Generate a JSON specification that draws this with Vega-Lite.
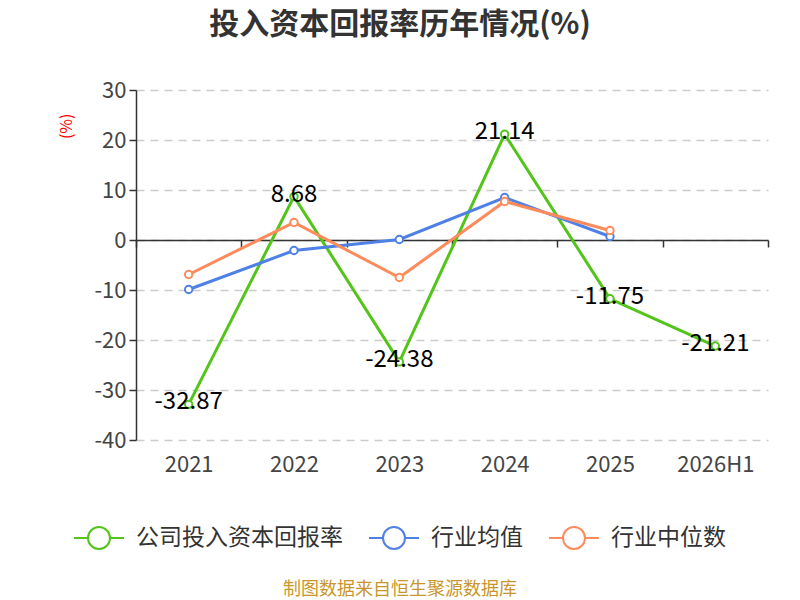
{
  "$schema": "https://vega.github.io/schema/vega-lite/v6.json",
  "autosize": {"type": "none"},
  "padding": {"left": 136, "top": 90, "right": 32, "bottom": 160},
  "width": 632,
  "height": 350,
  "background": "white",
  "title": {
    "text": "投入资本回报率历年情况(%)",
    "font": "Noto Sans CJK SC",
    "fontSize": 30,
    "fontWeight": "bold",
    "color": "#333333",
    "anchor": "middle",
    "frame": "group",
    "dx": -52,
    "offset": 39
  },
  "config": {
    "view": {"stroke": null},
    "font": "Noto Sans CJK SC",
    "locale": {
      "number": {
        "decimal": ".",
        "thousands": ",",
        "grouping": [3],
        "currency": ["", ""],
        "minus": "-"
      }
    }
  },
  "data": {
    "values": [
      {"year": "2021", "series": "公司投入资本回报率", "value": -32.87},
      {"year": "2022", "series": "公司投入资本回报率", "value": 8.68},
      {"year": "2023", "series": "公司投入资本回报率", "value": -24.38},
      {"year": "2024", "series": "公司投入资本回报率", "value": 21.14},
      {"year": "2025", "series": "公司投入资本回报率", "value": -11.75},
      {"year": "2026H1", "series": "公司投入资本回报率", "value": -21.21},
      {"year": "2021", "series": "行业均值", "value": -9.9},
      {"year": "2022", "series": "行业均值", "value": -2.1},
      {"year": "2023", "series": "行业均值", "value": 0.1},
      {"year": "2024", "series": "行业均值", "value": 8.5},
      {"year": "2025", "series": "行业均值", "value": 0.7},
      {"year": "2021", "series": "行业中位数", "value": -6.9},
      {"year": "2022", "series": "行业中位数", "value": 3.5},
      {"year": "2023", "series": "行业中位数", "value": -7.5},
      {"year": "2024", "series": "行业中位数", "value": 7.7},
      {"year": "2025", "series": "行业中位数", "value": 1.9}
    ]
  },
  "encoding": {
    "x": {
      "field": "year",
      "type": "nominal",
      "sort": null,
      "scale": {"type": "band", "paddingInner": 0, "paddingOuter": 0},
      "axis": {
        "title": null,
        "offset": -200,
        "labelAngle": 0,
        "labelFontSize": 22,
        "labelColor": "#444444",
        "labelPadding": 207,
        "domainColor": "#333333",
        "domainWidth": 1.5,
        "tickColor": "#333333",
        "tickWidth": 1.5,
        "tickSize": 7,
        "tickBand": "extent",
        "grid": false
      }
    },
    "y": {
      "field": "value",
      "type": "quantitative",
      "scale": {"domain": [-40, 30], "nice": false, "zero": false},
      "axis": {
        "title": "(%)",
        "titleColor": "#ff0000",
        "titleFontSize": 16,
        "titleFontWeight": "normal",
        "titleAnchor": "end",
        "titleAlign": "right",
        "titleX": -62,
        "titleY": 23,
        "values": [-40, -30, -20, -10, 0, 10, 20, 30],
        "labelFontSize": 22,
        "labelColor": "#444444",
        "labelPadding": 3,
        "domainColor": "#333333",
        "domainWidth": 1.5,
        "tickColor": "#333333",
        "tickWidth": 1.5,
        "tickSize": 7,
        "grid": true,
        "gridColor": "#cccccc",
        "gridDash": [8, 6],
        "gridWidth": 1.5
      }
    },
    "color": {
      "field": "series",
      "type": "nominal",
      "scale": {
        "domain": ["公司投入资本回报率", "行业均值", "行业中位数"],
        "range": ["#52c41a", "#4e80e6", "#fd8b5b"]
      },
      "legend": {
        "orient": "none",
        "direction": "horizontal",
        "legendX": -63,
        "legendY": 422,
        "title": "制图数据来自恒生聚源数据库",
        "titleOrient": "bottom",
        "titleAnchor": "middle",
        "titleColor": "#c9962e",
        "titleFontSize": 18,
        "titleFontWeight": "normal",
        "titlePadding": 28,
        "titleLimit": 800,
        "symbolType": "M-1,0H-0.44M0.44,0H1M-0.44,0A0.44,0.44 0 1,0 0.44,0A0.44,0.44 0 1,0 -0.44,0",
        "symbolSize": 2500,
        "symbolStrokeWidth": 2,
        "symbolFillColor": "white",
        "labelFontSize": 23,
        "labelColor": "#333333",
        "labelLimit": 400,
        "labelOffset": 11,
        "columnPadding": 22
      }
    }
  },
  "layer": [
    {
      "mark": {"type": "line", "strokeWidth": 3}
    },
    {
      "mark": {"type": "point", "filled": false, "fill": "white", "fillOpacity": 1, "size": 55, "strokeWidth": 2, "opacity": 1}
    },
    {
      "transform": [{"filter": "datum.series === '公司投入资本回报率'"}],
      "mark": {"type": "text", "fontSize": 24, "baseline": "middle", "dy": -2},
      "encoding": {
        "text": {"field": "value", "type": "quantitative", "format": ".2f"},
        "color": {"value": "#000000"}
      }
    }
  ]
}
